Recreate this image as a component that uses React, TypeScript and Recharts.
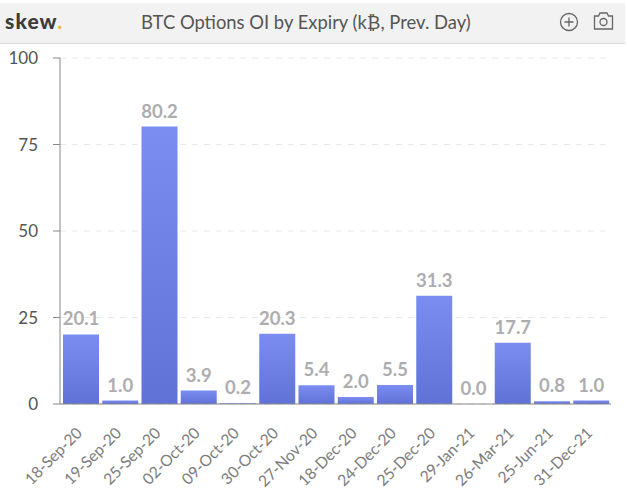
import { Bar, BarChart, CartesianGrid, LabelList, XAxis, YAxis } from 'recharts'

const expiries = [
  '18-Sep-20', '19-Sep-20', '25-Sep-20', '02-Oct-20', '09-Oct-20', '30-Oct-20', '27-Nov-20',
  '18-Dec-20', '24-Dec-20', '25-Dec-20', '29-Jan-21', '26-Mar-21', '25-Jun-21', '31-Dec-21',
]
const openInterest = [20.1, 1.0, 80.2, 3.9, 0.2, 20.3, 5.4, 2.0, 5.5, 31.3, 0.0, 17.7, 0.8, 1.0]
const yTicks = [0, 25, 50, 75, 100]

const data = expiries.map((name, i) => ({ name, oi: openInterest[i], label: openInterest[i].toFixed(1) }))

const font = 'Lato, sans-serif'

function XTick({ x, y, payload }: any) {
  return (
    <text
      x={x + 2}
      y={y + 22}
      textAnchor='end'
      fontFamily={font}
      fontSize={15.6}
      fill='#7c7c7c'
      transform={`rotate(-45 ${x + 2} ${y + 22})`}
    >
      {payload.value}
    </text>
  )
}

function Header() {
  return (
    <div
      style={{
        position: 'absolute',
        left: 0,
        top: 3,
        width: 625,
        height: 40,
        background: '#f2f2f2',
        borderBottom: '1px solid #dcdcdc',
        fontFamily: font,
      }}
    >
      <span style={{ position: 'absolute', left: 5, top: 5, fontSize: 21, fontWeight: 900, color: '#3c3c3c', letterSpacing: 1.1 }}>
        skew<span style={{ color: '#e8b93c' }}>.</span>
      </span>
      <span style={{ position: 'absolute', left: 141, top: 8, fontSize: 18.4, color: '#555555', whiteSpace: 'nowrap' }}>
        BTC Options OI by Expiry (k₿, Prev. Day)
      </span>
      <svg width={70} height={30} style={{ position: 'absolute', left: 555, top: 4 }} fill='none' stroke='#666666' strokeWidth={1.3}>
        <circle cx={14} cy={15} r={8.5} />
        <path d='M14 10.5v9M9.5 15h9' />
        <path d='M39.5 9h4l1.5-3h7l1.5 3h4v13h-18z' />
        <circle cx={48.5} cy={15} r={3.5} />
      </svg>
    </div>
  )
}

export default function App() {
  return (
    <div style={{ position: 'absolute', left: 0, top: 0, width: 627, height: 499, background: '#ffffff' }}>
      <Header />
      <BarChart
        width={627}
        height={499}
        data={data}
        barCategoryGap={1.5}
        margin={{ top: 58, right: 16, bottom: 0, left: 0 }}
      >
        <defs>
          <linearGradient id='barFill' x1='0' y1='0' x2='0' y2='1'>
            <stop offset='0%' stopColor='#7b8df0' />
            <stop offset='100%' stopColor='#6072d6' />
          </linearGradient>
        </defs>
        <CartesianGrid horizontal vertical={false} stroke='#e8e8e8' strokeDasharray='6 6' />
        <XAxis
          dataKey='name'
          interval={0}
          height={95}
          padding={{ left: 1.5, right: 0 }}
          stroke='#888888'
          tickLine={false}
          tick={<XTick />}
        />
        <YAxis
          width={60}
          domain={[0, 100]}
          ticks={yTicks}
          stroke='#888888'
          tickSize={7}
          tickMargin={15}
          tick={{ fontFamily: font, fontSize: 17, fill: '#555555' }}
        />
        <Bar
          dataKey='oi'
          fill='url(#barFill)'
          minPointSize={(v: any) => (v === 0 ? 0.01 : 0)}
          isAnimationActive={false}
        >
          <LabelList
            dataKey='label'
            position='top'
            offset={9}
            style={{ fontFamily: font, fontSize: 18.5, fontWeight: 700, fill: '#adadb0' }}
          />
        </Bar>
      </BarChart>
    </div>
  )
}
